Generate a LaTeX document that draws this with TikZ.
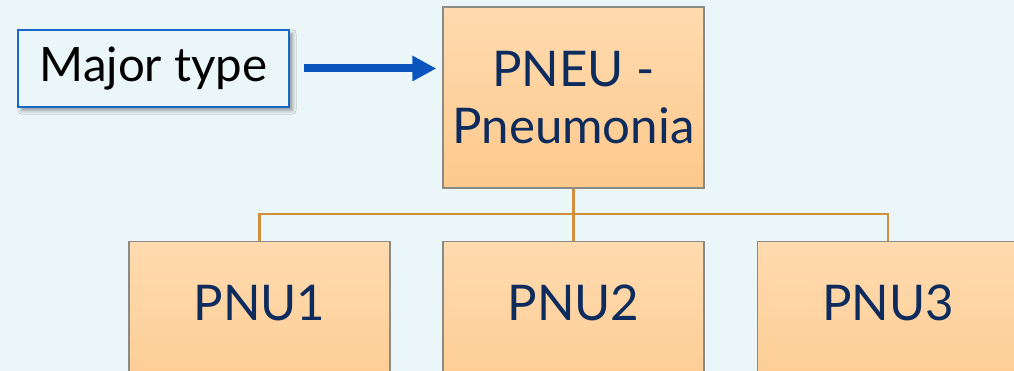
\documentclass[tikz,border=0pt]{standalone}
\usepackage{fontspec}
\setmainfont{Lato}
\usetikzlibrary{arrows.meta,shadows.blur}
\definecolor{bgcyan}{HTML}{EAF6F8}
\definecolor{navytext}{HTML}{0D2B5C}
\definecolor{peachtop}{HTML}{FFDBB0}
\definecolor{peachbot}{HTML}{FDC98C}
\definecolor{boxgray}{HTML}{8C8A86}
\definecolor{linkbrown}{HTML}{D18F3C}
\definecolor{arrowblue}{HTML}{0A55BD}
\definecolor{framblue}{HTML}{1767C6}

\begin{document}
\begin{tikzpicture}[x=0.02cm,y=-0.02cm]
			\tikzstyle{cat} = [rectangle,draw=boxgray,line width=0.8pt,shading=axis,top color=peachtop,bottom color=peachbot,text=navytext,font=\fontsize{28}{32.5}\selectfont,minimum width=5.22cm,minimum height=3.62cm,align=center]
			\tikzstyle{sub} = [cat,anchor=north,minimum height=0pt,inner ysep=0pt,text height=1.58cm,text depth=2.04cm]
			\tikzstyle{tag} = [rectangle,draw=framblue,line width=1.1pt,fill=bgcyan,minimum width=5.42cm,minimum height=1.54cm,font=\fontsize{27}{31}\selectfont,blur shadow={shadow xshift=2pt,shadow yshift=-2pt,shadow blur steps=6}]
			\tikzstyle{link} = [draw=linkbrown,line width=1.2pt]
			
			\clip (0,0) rectangle (1014,371);
			\fill[bgcyan] (0,0) rectangle (1014,371);
			
			\node[tag] (major) at (153.5,68.5) {Major type};
			\node[cat] (pneu) at (573.5,97.5) {PNEU -\\Pneumonia};
			\node[sub] (pnu1) at (259.5,241) {PNU1};
			\node[sub] (pnu2) at (573.5,241) {PNU2};
			\node[sub] (pnu3) at (888,241) {PNU3};
			\coordinate (hub) at (573.5,214);
			\coordinate (aim) at (major.east -| pneu.west);
			
			\path[link] (pneu.south) -- (hub) -| (pnu1.north);
			\path[link] (hub) -- (pnu2.north);
			\path[link] (hub) -| (pnu3.north);
			\path (major.east) edge[-{Triangle[length=0.48cm,width=0.48cm]},draw=arrowblue,line width=0.16cm,shorten <=0.28cm,shorten >=0.12cm] (aim);
		\end{tikzpicture}
\end{document}
